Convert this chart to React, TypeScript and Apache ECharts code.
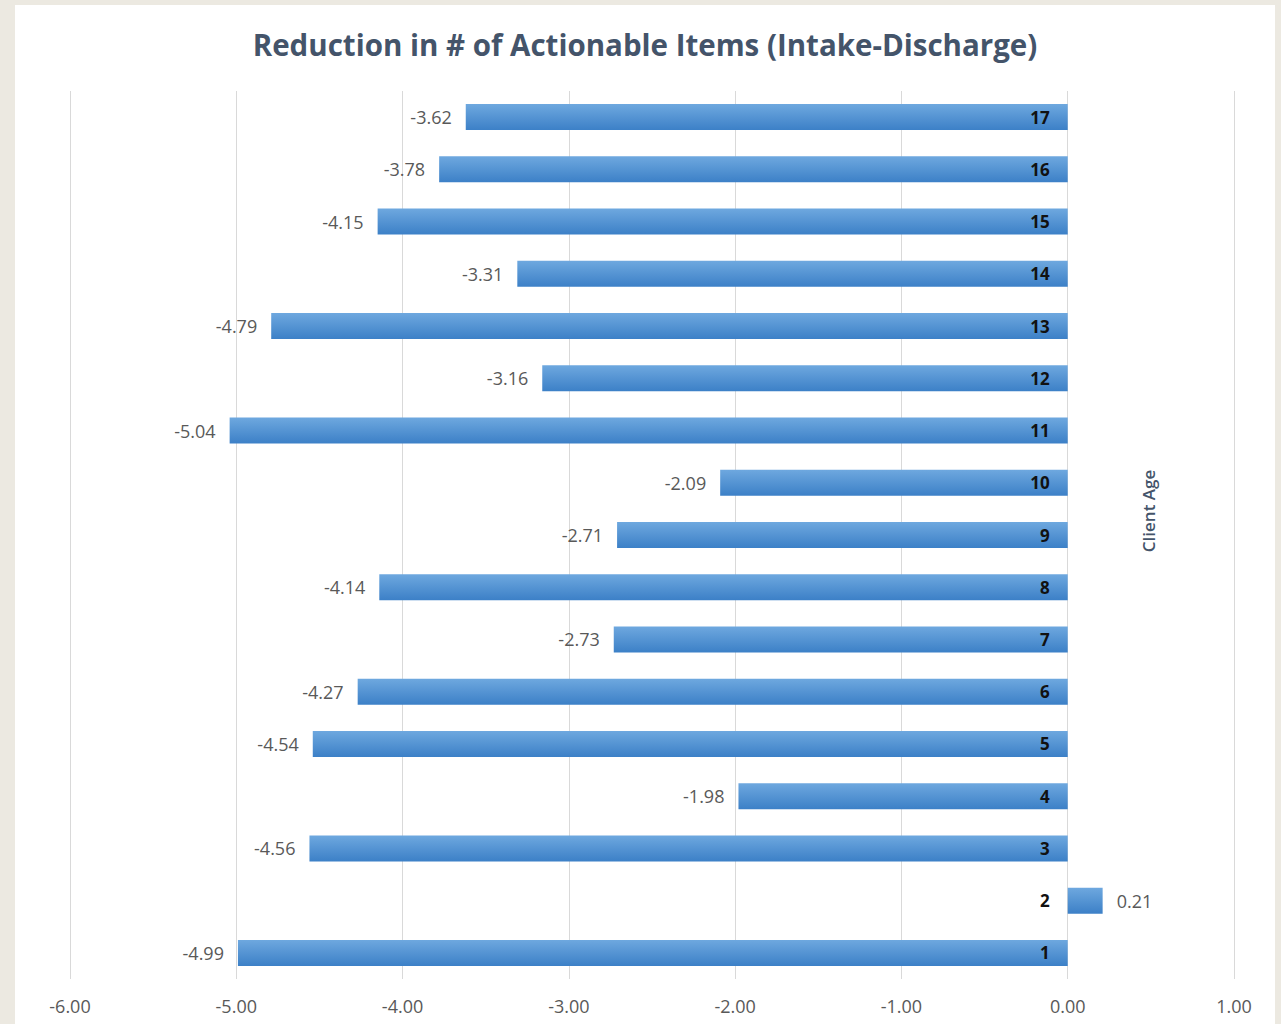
import React, { useEffect, useRef } from "react";
import * as echarts from "echarts";

const categories = ["1", "2", "3", "4", "5", "6", "7", "8", "9", "10", "11", "12", "13", "14", "15", "16", "17"];
const values = [-4.99, 0.21, -4.56, -1.98, -4.54, -4.27, -2.73, -4.14, -2.71, -2.09, -5.04, -3.16, -4.79, -3.31, -4.15, -3.78, -3.62];
const xMin = -6;
const xMax = 1;
const xStep = 1;
const titleText = "Reduction in # of Actionable Items (Intake-Discharge)";
const axisTitle = "Client Age";

const W = 1281;
const H = 1024;
const gridLeft = 70;
const gridRight = 47;

export default function App() {
  const ref = useRef<HTMLDivElement>(null);
  useEffect(() => {
    if (!ref.current) return;
    const chart = echarts.init(ref.current, null, { renderer: "svg" });
    const font = "'Open Sans', sans-serif";
    const plotWidth = W - gridLeft - gridRight;
    const zeroOffset = ((0 - xMin) / (xMax - xMin)) * plotWidth;
    chart.setOption({
      animation: false,
      backgroundColor: "transparent",
      title: {
        text: titleText,
        left: 640,
        top: 24,
        textAlign: "center",
        textStyle: { fontFamily: font, fontSize: 29.5, fontWeight: "bold", color: "#44546A" },
      },
      grid: { left: gridLeft, right: gridRight, top: 91, bottom: 45, containLabel: false },
      xAxis: {
        type: "value",
        min: xMin,
        max: xMax,
        interval: xStep,
        axisLine: { show: false },
        axisTick: { show: false },
        splitLine: { show: true, lineStyle: { color: "#D9D9D9", width: 1 } },
        axisLabel: {
          margin: 18,
          color: "#595959",
          fontFamily: font,
          fontSize: 18,
          formatter: (v: number) => v.toFixed(2),
        },
      },
      yAxis: {
        type: "category",
        data: categories,
        z: 10,
        position: "left",
        offset: -zeroOffset,
        axisLine: { show: false, onZero: false },
        axisTick: { show: false },
        splitLine: { show: false },
        axisLabel: {
          margin: 18,
          color: "#111111",
          fontFamily: font,
          fontSize: 17,
          fontWeight: "bold",
        },
      },
      graphic: [
        {
          type: "text",
          x: 1148,
          y: 511,
          rotation: Math.PI / 2,
          style: {
            text: axisTitle,
            fontFamily: font,
            fontSize: 17,
            fontWeight: 600,
            fill: "#44546A",
            textAlign: "center",
            textVerticalAlign: "middle",
          },
        },
      ],
      series: [
        {
          type: "bar",
          barWidth: 26,
          data: values.map((v) => ({
            value: v,
            label: { position: v < 0 ? "left" : "right" },
          })),
          itemStyle: {
            color: new echarts.graphic.LinearGradient(0, 0, 0, 1, [
              { offset: 0, color: "#6EA8DF" },
              { offset: 1, color: "#3C80C7" },
            ]),
          },
          label: {
            show: true,
            distance: 14,
            color: "#595959",
            fontFamily: font,
            fontSize: 18,
            formatter: (p: any) => Number(p.value).toFixed(2),
          },
        },
      ],
    });
    return () => chart.dispose();
  }, []);

  return (
    <div style={{ position: "fixed", left: 0, top: 0, width: W, height: H, background: "#ECE9E1" }}>
      <div style={{ position: "absolute", left: 15, top: 5, width: 1260, height: 1019, background: "#FFFFFF" }} />
      <div ref={ref} style={{ position: "absolute", left: 0, top: 0, width: W, height: H }} />
    </div>
  );
}
